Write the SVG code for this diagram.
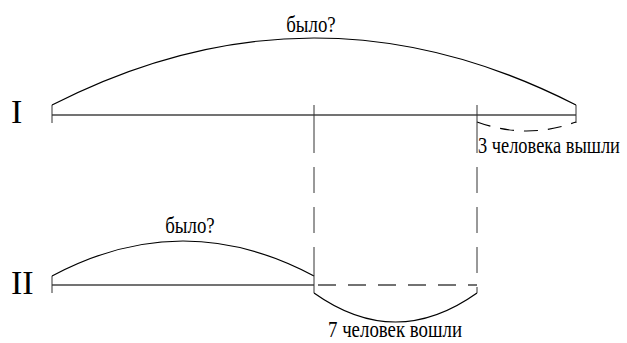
<svg xmlns="http://www.w3.org/2000/svg" width="627" height="343" viewBox="0 0 627 343">
<style>
text{font-family:"Liberation Serif","Times New Roman",serif;fill:#000}
.lbl{font-size:23px}
.rn{font-size:34px}
.seg{stroke:#444;stroke-width:1.4;fill:none}
.arc{stroke:#000;stroke-width:1.2;fill:none}
.thin{stroke:#333;stroke-width:1;fill:none}
.dash{stroke-dasharray:26 14}
.hdash{stroke-dasharray:18 12}
</style>
<rect width="627" height="343" fill="#fff"/>
<g id="row1">
<text class="rn" x="11" y="123">I</text>
<line class="seg" x1="52" y1="115" x2="576" y2="115"/>
<line class="thin" x1="52" y1="105" x2="52" y2="123"/>
<line class="thin" x1="576" y1="105" x2="576" y2="123"/>
<path class="arc" d="M52,105 Q314,-29 576,105"/>
<text class="lbl" transform="translate(311,32) scale(0.82,1)" text-anchor="middle">было?</text>
<path class="arc" d="M477,122 Q526.5,140 576,122" stroke-dasharray="14 10"/>
<text class="lbl" transform="translate(478,153) scale(0.8,1)">3 человека вышли</text>
</g>
<g id="row2">
<text class="rn" x="11" y="294">II</text>
<line class="seg" x1="52" y1="285" x2="314" y2="285"/>
<line class="seg hdash" x1="316" y1="285" x2="477" y2="285" stroke-dashoffset="-2"/>
<line class="thin" x1="52" y1="276" x2="52" y2="293"/>
<path class="arc" d="M52,276 Q183,206 314,276"/>
<text class="lbl" transform="translate(190,233) scale(0.82,1)" text-anchor="middle">было?</text>
<path class="arc" d="M314,293 Q395.5,351 477,293"/>
<text class="lbl" transform="translate(395,337) scale(0.82,1)" text-anchor="middle">7 человек вошли</text>
</g>
<g id="connectors">
<line class="thin" x1="314" y1="105" x2="314" y2="153"/>
<line class="thin dash" x1="314" y1="167" x2="314" y2="247"/>
<line class="thin" x1="314" y1="247" x2="314" y2="293"/>
<line class="thin" x1="477" y1="105" x2="477" y2="153"/>
<line class="thin dash" x1="477" y1="167" x2="477" y2="293"/>
</g>
</svg>
